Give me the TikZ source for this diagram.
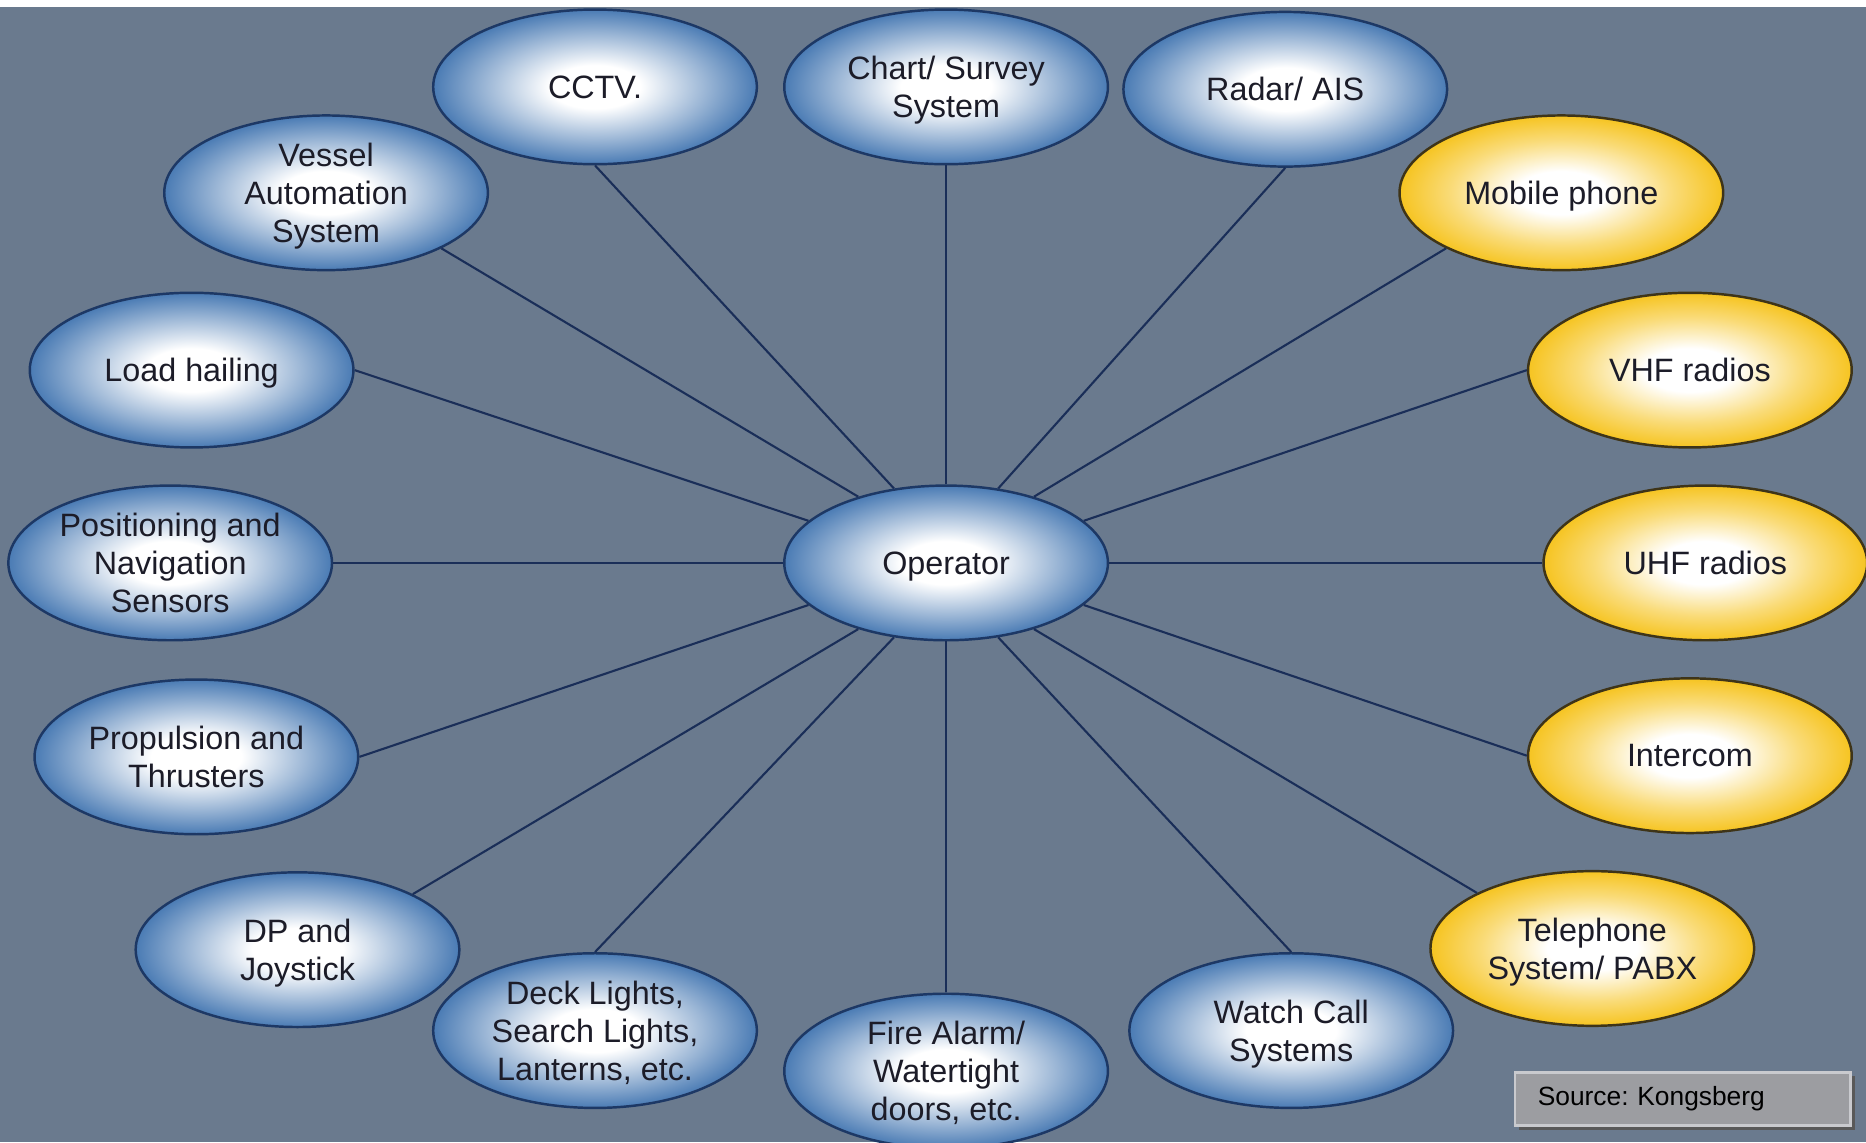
\documentclass[tikz,border=0pt]{standalone}
\usepackage{fontspec}
\setmainfont{Liberation Sans}
\usepackage{tikz}
\usetikzlibrary{shapes,arrows}
\usetikzlibrary{shapes.geometric}
\usetikzlibrary{shadows}
\definecolor{bgcol}{HTML}{6A7A8E}
\definecolor{bubbleblue}{HTML}{4A7BB4}
\definecolor{bubblegold}{HTML}{F6C421}
\definecolor{rimblue}{HTML}{1D3865}
\definecolor{rimgold}{HTML}{3E3418}
\definecolor{linecol}{HTML}{1A2E58}
\definecolor{txtcol}{HTML}{1C1C28}
\definecolor{srcgrey}{HTML}{9C9DA1}
\definecolor{srcedge}{HTML}{C9CACE}
\pgfdeclareradialshading{bluebubble}{\pgfpoint{0bp}{0bp}}{color(0bp)=(white); color(7bp)=(white); color(17bp)=(bubbleblue!55!white); color(25bp)=(bubbleblue); color(50bp)=(bubbleblue)}
\pgfdeclareradialshading{goldbubble}{\pgfpoint{0bp}{0bp}}{color(0bp)=(white); color(7bp)=(white); color(17bp)=(bubblegold!60!white); color(25bp)=(bubblegold); color(50bp)=(bubblegold)}
\tikzstyle{unit} = [ellipse, shading=bluebubble, draw=rimblue, line width=0.7pt,
minimum width=3.237cm, minimum height=1.547cm, inner sep=0pt, align=center,
text=txtcol, text depth=0pt, font=\fontsize{9.2}{10.8}\selectfont]
\tikzstyle{comms} = [unit, shading=goldbubble, draw=rimgold]
\tikzstyle{line} = [draw, linecol, line width=0.6pt]
\tikzstyle{srcbox} = [draw=srcedge, fill=srcgrey, line width=0.8pt,
minimum width=3.356cm, minimum height=0.536cm, text width=2.9cm, align=left,
inner xsep=0.21cm, font=\fontsize{7.5}{9}\selectfont\frenchspacing, text=black,
drop shadow={shadow xshift=1.2pt, shadow yshift=-1.2pt, opacity=1, fill=black!65}]

\begin{document}
\begin{tikzpicture}[x=0.0119cm, y=-0.0119cm]
	\useasboundingbox (0,0) rectangle (1568,960);
	\clip (0,0) rectangle (1568,960);
	\fill [white] (0,0) rectangle (1568,6);
	\fill [bgcol] (0,6) rectangle (1568,960);

	% Place nodes
	\node [unit] (op) at (795,473) {Operator};
	\node [unit] (cctv) at (500,73) {CCTV.};
	\node [unit] (chart) at (795,73) {Chart/ Survey\\System};
	\node [unit] (radar) at (1080,75) {Radar/ AIS};
	\node [unit] (vas) at (274,162) {Vessel\\Automation\\System};
	\node [comms] (mob) at (1312,162) {Mobile phone};
	\node [unit] (load) at (161,311) {Load hailing};
	\node [comms] (vhf) at (1420,311) {VHF radios};
	\node [unit] (pos) at (143,473) {Positioning and\\Navigation\\Sensors};
	\node [comms] (uhf) at (1433,473) {UHF radios};
	\node [unit] (prop) at (165,636) {Propulsion and\\Thrusters};
	\node [comms] (icom) at (1420,635) {Intercom};
	\node [unit] (dp) at (250,798) {DP and\\Joystick};
	\node [comms] (tel) at (1338,797) {Telephone\\System/ PABX};
	\node [unit] (deck) at (500,866) {Deck Lights,\\Search Lights,\\Lanterns, etc.};
	\node [unit] (fire) at (795,900) {Fire Alarm/\\Watertight\\doors, etc.};
	\node [unit] (watch) at (1085,866) {Watch Call\\Systems};
	\node [srcbox] (src) at (1414,923.5) {Source: Kongsberg};

	\path [line] (op.125) -- (cctv.south);
	\path [line] (op.90) -- (chart.south);
	\path [line] (op.55) -- (radar.south);
	\path [line] (op.143) -- (vas.south east);
	\path [line] (op.37) -- (mob.south west);
	\path [line] (op.163) -- (load.east);
	\path [line] (op.17) -- (vhf.west);
	\path [line] (op.180) -- (pos.east);
	\path [line] (op.0) -- (uhf.west);
	\path [line] (op.197) -- (prop.east);
	\path [line] (op.343) -- (icom.west);
	\path [line] (op.217) -- (dp.north east);
	\path [line] (op.323) -- (tel.north west);
	\path [line] (op.235) -- (deck.north);
	\path [line] (op.270) -- (fire.north);
	\path [line] (op.305) -- (watch.north);

\end{tikzpicture}
\end{document}
